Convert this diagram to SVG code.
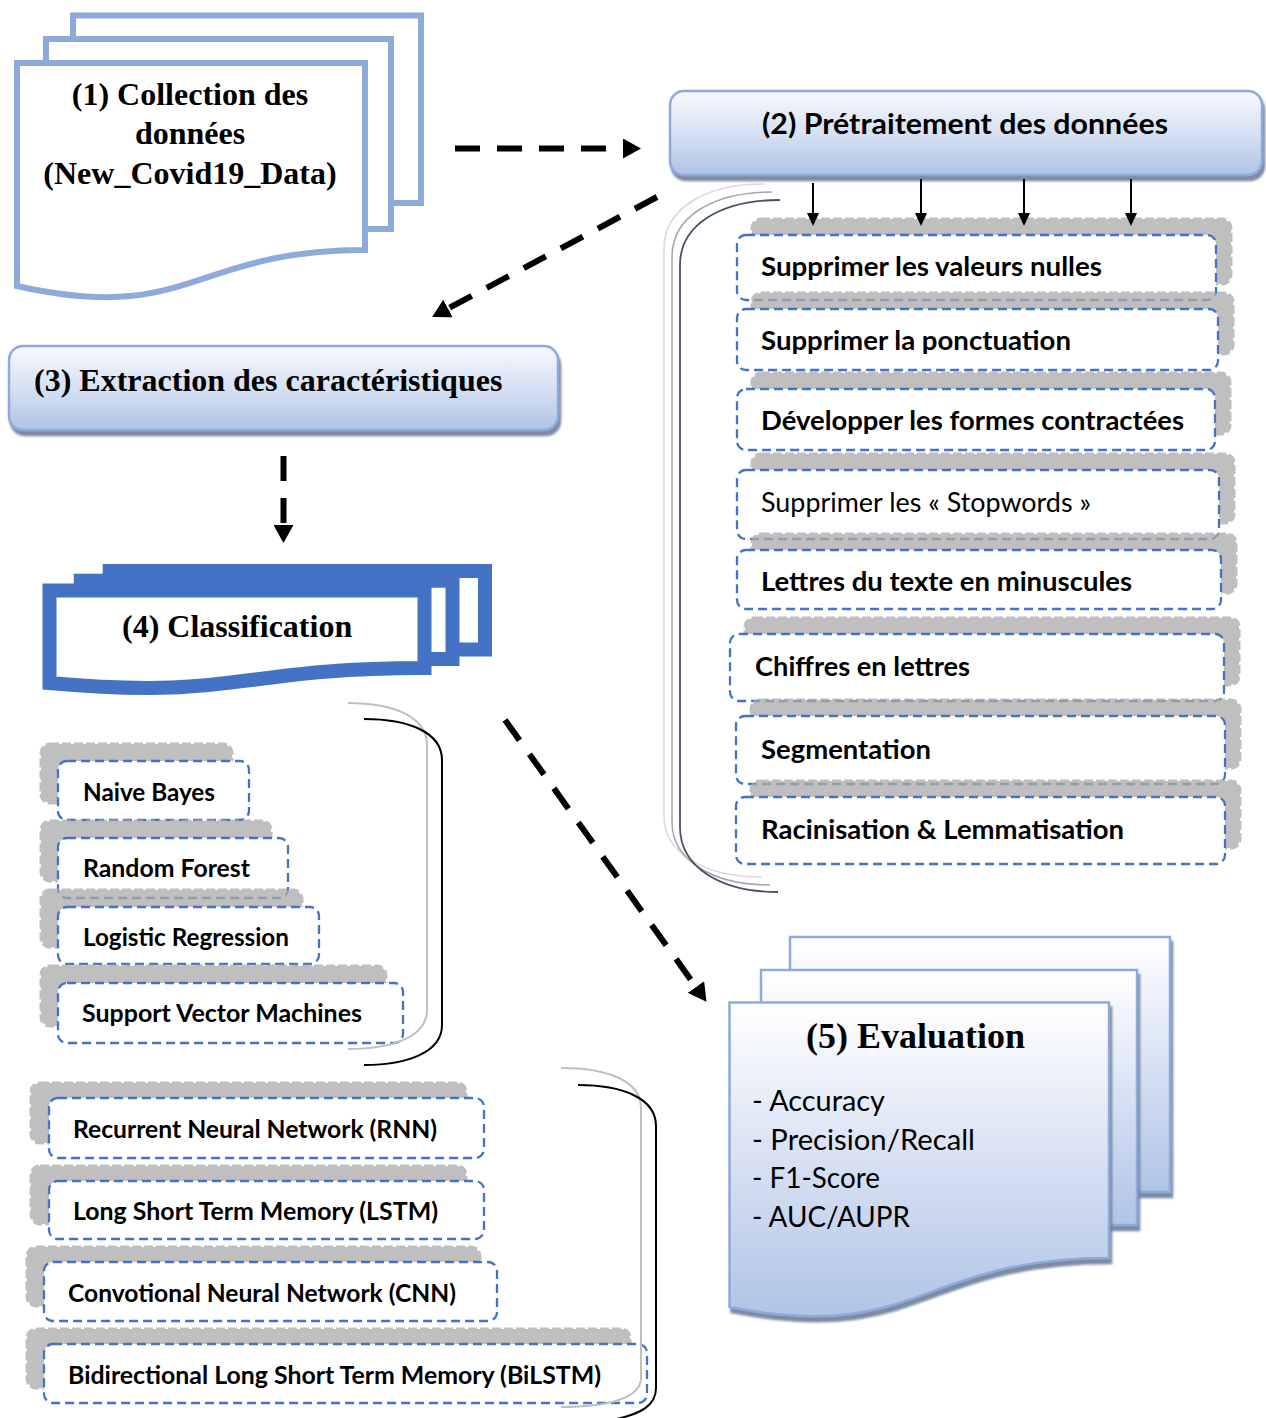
<svg xmlns="http://www.w3.org/2000/svg" width="1266" height="1418" viewBox="0 0 1266 1418">
<defs>
<style>
.serif{font-family:'Liberation Serif','Times New Roman',serif;font-weight:bold;fill:#000}
.sans{font-family:Lato,'Liberation Sans',Arial,sans-serif;fill:#000}
.b{font-weight:bold}
.doc1{fill:#fff;stroke:#8EAADB;stroke-width:6}
.doc4{fill:#fff;stroke:#4472C4;stroke-width:14}
.doc5{fill:url(#gDoc);stroke:#8EAADB;stroke-width:2.5}
.hbox{fill:url(#gBox);stroke:#8EAADB;stroke-width:2.5}
.item{fill:#fff;stroke:#4472C4;stroke-width:2.3;stroke-dasharray:9 5}
.shd{fill:#AAAAAA;stroke:#AAAAAA;stroke-width:3;stroke-dasharray:9 3;opacity:0.75}
.dash{fill:none;stroke:#000;stroke-width:6;stroke-dasharray:25 17}
.thin{fill:none;stroke:#000;stroke-width:2}
.br-dark{fill:none;stroke:#44546A;stroke-width:1.8}
.br-mid{fill:none;stroke:#A6A6A6;stroke-width:1.5}
.br-light{fill:none;stroke:#D9D9D9;stroke-width:1.5}
.br-gray{fill:none;stroke:#BFBFBF;stroke-width:2}
.br-black{fill:none;stroke:#000;stroke-width:2}
</style>
<linearGradient id="gBox" x1="0" y1="0" x2="0" y2="1">
<stop offset="0" stop-color="#F7F9FD"/>
<stop offset="0.5" stop-color="#D7E1F3"/>
<stop offset="1" stop-color="#AFC3E6"/>
</linearGradient>
<linearGradient id="gDoc" x1="0" y1="0" x2="0" y2="1">
<stop offset="0" stop-color="#FFFFFF"/>
<stop offset="0.45" stop-color="#DCE4F4"/>
<stop offset="1" stop-color="#B0C4E6"/>
</linearGradient>
<filter id="shadow" x="-5%" y="-5%" width="115%" height="125%">
<feDropShadow dx="2" dy="5" stdDeviation="1.2" flood-color="#6F7F99" flood-opacity="0.9"/>
</filter>
<marker id="ah" viewBox="0 0 18 20" refX="0" refY="10" markerWidth="18" markerHeight="20" markerUnits="userSpaceOnUse" orient="auto">
<path d="M0,0 L18,10 L0,20 Z" fill="#000"/>
</marker>
<marker id="sa" viewBox="0 0 13 12" refX="0" refY="6" markerWidth="13" markerHeight="12" markerUnits="userSpaceOnUse" orient="auto">
<path d="M0,0 L13,6 L0,12 Z" fill="#000"/>
</marker>
</defs>
<rect width="1266" height="1418" fill="#fff"/>

<g id="n1-collection">
<rect class="doc1" x="73" y="15.5" width="348" height="187.5"/>
<rect class="doc1" x="46" y="39" width="345" height="190"/>
<path class="doc1" d="M17,63 H365 V250 C191,250 191,325 17,286 Z"/>
<text class="serif" font-size="32" text-anchor="middle" x="190" y="105">(1) Collection des</text>
<text class="serif" font-size="32" text-anchor="middle" x="190" y="144">données</text>
<text class="serif" font-size="32" text-anchor="middle" x="190" y="184">(New_Covid19_Data)</text>
</g>

<g id="n2-pretraitement">
<rect class="hbox" x="670" y="91" width="592" height="84" rx="14" filter="url(#shadow)"/>
<text class="sans b" font-size="28" x="762" y="134" textLength="406" lengthAdjust="spacingAndGlyphs">(2) Prétraitement des données</text>
</g>

<g id="n3-extraction">
<rect class="hbox" x="9" y="346" width="549" height="84" rx="14" filter="url(#shadow)"/>
<text class="serif" font-size="32" x="34" y="391">(3) Extraction des caractéristiques</text>
</g>

<g id="n4-classification">
<rect class="doc4" x="109.7" y="571" width="375.3" height="78.5"/>
<rect class="doc4" x="80.7" y="580.7" width="371.8" height="78.3"/>
<path class="doc4" d="M49.5,590.5 H424.5 V668 C237,668 237,700 49.5,683 Z"/>
<text class="serif" font-size="32" x="122" y="637">(4) Classification</text>
</g>

<g id="n5-evaluation">
<rect class="doc5" x="790" y="937" width="380" height="255" filter="url(#shadow)"/>
<rect class="doc5" x="761" y="970" width="376" height="255" filter="url(#shadow)"/>
<path class="doc5" d="M729.5,1002.5 H1109 V1258 C919,1258 919,1344 729.5,1307 Z" filter="url(#shadow)"/>
<text class="serif" font-size="36" x="806" y="1048">(5) Evaluation</text>
<text class="sans" font-size="28" x="752" y="1111" textLength="133" lengthAdjust="spacingAndGlyphs">- Accuracy</text>
<text class="sans" font-size="28" x="752" y="1150" textLength="223" lengthAdjust="spacingAndGlyphs">- Precision/Recall</text>
<text class="sans" font-size="28" x="752" y="1188" textLength="128" lengthAdjust="spacingAndGlyphs">- F1-Score</text>
<text class="sans" font-size="28" x="752" y="1227" textLength="158" lengthAdjust="spacingAndGlyphs">- AUC/AUPR</text>
</g>

<g id="preprocessing-steps">
<g id="p1">
<rect class="shd" x="752" y="219" width="479" height="65" rx="9"/>
<rect class="item" x="737" y="235" width="479" height="65" rx="9"/>
<text class="sans b" font-size="26" x="761" y="276" textLength="341" lengthAdjust="spacingAndGlyphs">Supprimer les valeurs nulles</text>
</g>
<g id="p2">
<rect class="shd" x="752" y="293" width="481" height="61" rx="9"/>
<rect class="item" x="737" y="309" width="481" height="61" rx="9"/>
<text class="sans b" font-size="26" x="761" y="350" textLength="310" lengthAdjust="spacingAndGlyphs">Supprimer la ponctuation</text>
</g>
<g id="p3">
<rect class="shd" x="752" y="373" width="478" height="61" rx="9"/>
<rect class="item" x="737" y="389" width="478" height="61" rx="9"/>
<text class="sans b" font-size="26" x="761" y="430" textLength="423" lengthAdjust="spacingAndGlyphs">Développer les formes contractées</text>
</g>
<g id="p4">
<rect class="shd" x="752" y="454" width="482" height="69" rx="9"/>
<rect class="item" x="737" y="470" width="482" height="69" rx="9"/>
<text class="sans" font-size="26" x="761" y="512" textLength="330" lengthAdjust="spacingAndGlyphs">Supprimer les « Stopwords »</text>
</g>
<g id="p5">
<rect class="shd" x="752" y="534" width="484" height="59" rx="9"/>
<rect class="item" x="737" y="550" width="484" height="59" rx="9"/>
<text class="sans b" font-size="26" x="761" y="591" textLength="371" lengthAdjust="spacingAndGlyphs">Lettres du texte en minuscules</text>
</g>
<g id="p6">
<rect class="shd" x="745" y="618" width="494" height="67" rx="9"/>
<rect class="item" x="730" y="634" width="494" height="67" rx="9"/>
<text class="sans b" font-size="26" x="755" y="676" textLength="215" lengthAdjust="spacingAndGlyphs">Chiffres en lettres</text>
</g>
<g id="p7">
<rect class="shd" x="751" y="700" width="489" height="68" rx="9"/>
<rect class="item" x="736" y="716" width="489" height="68" rx="9"/>
<text class="sans b" font-size="26" x="761" y="759" textLength="170" lengthAdjust="spacingAndGlyphs">Segmentation</text>
</g>
<g id="p8">
<rect class="shd" x="751" y="781" width="489" height="67" rx="9"/>
<rect class="item" x="736" y="797" width="489" height="67" rx="9"/>
<text class="sans b" font-size="26" x="761" y="839" textLength="363" lengthAdjust="spacingAndGlyphs">Racinisation &amp; Lemmatisation</text>
</g>
</g>

<g id="classical-models">
<g id="c1">
<rect class="shd" x="41" y="744" width="191" height="59" rx="9"/>
<rect class="item" x="58" y="761" width="191" height="59" rx="9"/>
<text class="sans b" font-size="24" x="83" y="801" textLength="132" lengthAdjust="spacingAndGlyphs">Naive Bayes</text>
</g>
<g id="c2">
<rect class="shd" x="41" y="821" width="230" height="60" rx="9"/>
<rect class="item" x="58" y="838" width="230" height="60" rx="9"/>
<text class="sans b" font-size="24" x="83" y="877" textLength="167" lengthAdjust="spacingAndGlyphs">Random Forest</text>
</g>
<g id="c3">
<rect class="shd" x="41" y="890" width="261" height="57" rx="9"/>
<rect class="item" x="58" y="907" width="261" height="57" rx="9"/>
<text class="sans b" font-size="24" x="83" y="946" textLength="206" lengthAdjust="spacingAndGlyphs">Logistic Regression</text>
</g>
<g id="c4">
<rect class="shd" x="41" y="966" width="345" height="60" rx="9"/>
<rect class="item" x="58" y="983" width="345" height="60" rx="9"/>
<text class="sans b" font-size="24" x="82" y="1022" textLength="280" lengthAdjust="spacingAndGlyphs">Support Vector Machines</text>
</g>
</g>

<g id="deep-models">
<g id="d1">
<rect class="shd" x="31" y="1083" width="435" height="60" rx="9"/>
<rect class="item" x="49" y="1098" width="435" height="60" rx="9"/>
<text class="sans b" font-size="24" x="73" y="1138" textLength="364" lengthAdjust="spacingAndGlyphs">Recurrent Neural Network (RNN)</text>
</g>
<g id="d2">
<rect class="shd" x="31" y="1166" width="435" height="58" rx="9"/>
<rect class="item" x="49" y="1181" width="435" height="58" rx="9"/>
<text class="sans b" font-size="24" x="73" y="1220" textLength="365" lengthAdjust="spacingAndGlyphs">Long Short Term Memory (LSTM)</text>
</g>
<g id="d3">
<rect class="shd" x="27" y="1247" width="453" height="59" rx="9"/>
<rect class="item" x="44" y="1262" width="453" height="59" rx="9"/>
<text class="sans b" font-size="24" x="68" y="1302" textLength="388" lengthAdjust="spacingAndGlyphs">Convotional Neural Network (CNN)</text>
</g>
<g id="d4">
<rect class="shd" x="27" y="1329" width="603" height="59" rx="9"/>
<rect class="item" x="44" y="1344" width="603" height="59" rx="9"/>
<text class="sans b" font-size="24" x="68" y="1384" textLength="533" lengthAdjust="spacingAndGlyphs">Bidirectional Long Short Term Memory (BiLSTM)</text>
</g>
</g>

<g id="braces">
<path class="br-light" d="M764,184 C704,184 664,209 664,249 L664,816 C664,853 704,877 762,877"/>
<path class="br-mid" d="M772,192 C712,192 672,217 672,257 L672,822 C672,860 712,885 770,885"/>
<path class="br-dark" d="M780,200 C720,200 680,225 680,265 L680,827 C680,867 720,892 778,892"/>
<path class="br-gray" d="M348,703 C392,703 427,716 427,745 L427,1010 C427,1037 392,1049 348,1049"/>
<path class="br-black" d="M364,719 C408,719 442,732 442,760 L442,1025 C442,1052 408,1065 364,1065"/>
<path class="br-gray" d="M561,1068 C606,1068 641,1080 641,1108 L641,1378 C641,1398 608,1407 561,1407"/>
<path class="br-black" d="M578,1085 C622,1085 656,1098 656,1126 L656,1388 C656,1405 642,1414 612,1420"/>
</g>

<g id="connectors">
<line class="dash" x1="455" y1="148.5" x2="623" y2="148.5" marker-end="url(#ah)"/>
<line class="dash" x1="657" y1="197" x2="448" y2="308.5" marker-end="url(#ah)"/>
<line class="dash" x1="283.5" y1="456" x2="283.5" y2="525" marker-end="url(#ah)"/>
<line class="dash" x1="505" y1="720" x2="696" y2="987" marker-end="url(#ah)"/>
<line class="thin" x1="813" y1="183" x2="813" y2="213" marker-end="url(#sa)"/>
<line class="thin" x1="921" y1="179" x2="921" y2="213" marker-end="url(#sa)"/>
<line class="thin" x1="1024" y1="179" x2="1024" y2="213" marker-end="url(#sa)"/>
<line class="thin" x1="1131" y1="179" x2="1131" y2="213" marker-end="url(#sa)"/>
</g>
</svg>
